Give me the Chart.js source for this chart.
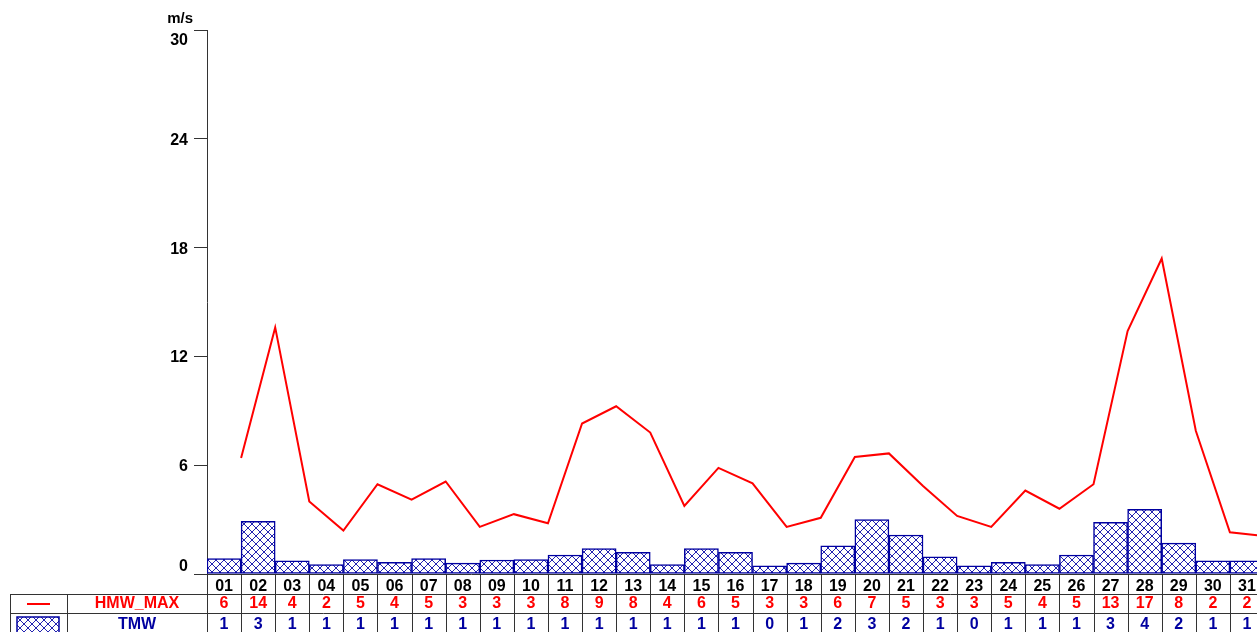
<!DOCTYPE html>
<html lang="en">
<head>
<meta charset="UTF-8">
<title>HMW_MAX / TMW</title>
<style>
html, body { margin: 0; padding: 0; overflow: hidden; background: #fff; }
#box { width: 1264px; height: 632px; }
</style>
</head>
<body>
<div id="box"><canvas id="windChart"></canvas></div>
<script src="https://cdn.jsdelivr.net/npm/chart.js"></script>
<script>
const days = ['01','02','03','04','05','06','07','08','09','10','11','12','13','14','15','16',
              '17','18','19','20','21','22','23','24','25','26','27','28','29','30','31'];
const hmwMax = [6.4, 13.6, 4.0, 2.4, 4.95, 4.1, 5.1, 2.6, 3.3, 2.8, 8.3, 9.25, 7.8, 3.75, 5.85, 5.0,
                2.6, 3.1, 6.45, 6.65, 4.85, 3.2, 2.6, 4.6, 3.6, 4.95, 13.4, 17.4, 7.9, 2.3, 2.1];
const tmw = [0.85, 2.9, 0.73, 0.52, 0.79, 0.64, 0.85, 0.6, 0.77, 0.8, 1.05, 1.4, 1.2, 0.52, 1.4, 1.2,
             0.45, 0.6, 1.55, 3.0, 2.15, 0.95, 0.45, 0.65, 0.52, 1.05, 2.85, 3.57, 1.7, 0.72, 0.72];
const yTicks = [0, 6, 12, 18, 24, 30];
const unitLabel = 'm/s';
const rowNames = ['HMW_MAX', 'TMW'];

const RED = '#ff0000';
const BLUE = '#0000a0';
const FAMILY = '"Liberation Sans", Arial, sans-serif';
const FONT = 'bold 16px ' + FAMILY;
const LINE_COL = '#333';

const ctx = document.getElementById('windChart');

// cross hatch fill for the bars
function makeHatch() {
    const c = document.createElement('canvas');
    c.width = 8; c.height = 8;
    const g = c.getContext('2d');
    g.fillStyle = '#fff';
    g.fillRect(0, 0, 8, 8);
    g.strokeStyle = '#2222b0';
    g.lineWidth = 1;
    g.beginPath();
    g.moveTo(0, 0); g.lineTo(8, 8);
    g.moveTo(8, 0); g.lineTo(0, 8);
    g.stroke();
    return ctx.getContext('2d').createPattern(c, 'repeat');
}
const hatch = makeHatch();

function seg(c, x1, y1, x2, y2) {
    c.beginPath();
    c.moveTo(x1, y1);
    c.lineTo(x2, y2);
    c.stroke();
}

const tablePlugin = {
    id: 'table',
    afterDraw(chart) {
        const c = chart.ctx;
        const area = chart.chartArea;
        const x = chart.scales.x;
        const y = chart.scales.y;
        const w = x.width / days.length;
        const r1 = area.bottom + 20;
        const r2 = r1 + 19;
        const r3 = r2 + 24;

        c.save();
        c.strokeStyle = LINE_COL;
        c.lineWidth = 1;
        seg(c, 10, r1 + 0.5, x.right, r1 + 0.5);
        seg(c, 10, r2 + 0.5, x.right, r2 + 0.5);
        for (let i = 0; i <= days.length; i++) {
            const px = Math.round(x.left + i * w) + 0.5;
            seg(c, px, area.bottom + 1, px, r3);
        }
        seg(c, 10.5, r1, 10.5, r3);
        seg(c, 67.5, r1, 67.5, r3);

        // legend symbols
        c.strokeStyle = RED;
        c.lineWidth = 2;
        seg(c, 27, r1 + 10, 50, r1 + 10);
        c.fillStyle = hatch;
        c.fillRect(17, r2 + 4, 42, 16);
        c.strokeStyle = BLUE;
        c.lineWidth = 1.5;
        c.strokeRect(17, r2 + 4, 42, 16);

        c.font = FONT;
        c.textAlign = 'center';
        c.textBaseline = 'middle';
        c.fillStyle = RED;
        c.fillText(rowNames[0], 137, r1 + 10);
        c.fillStyle = BLUE;
        c.fillText(rowNames[1], 137, r2 + 12);
        days.forEach((d, i) => {
            const cx = x.getPixelForValue(i);
            c.fillStyle = RED;
            c.fillText(String(Math.round(hmwMax[i])), cx, r1 + 10);
            c.fillStyle = BLUE;
            c.fillText(String(Math.round(tmw[i])), cx, r2 + 12);
        });

        // y labels, kept inside the axis range
        c.fillStyle = '#000';
        c.textAlign = 'right';
        yTicks.forEach(v => {
            let py = y.getPixelForValue(v);
            py = Math.min(Math.max(py, area.top + 9), area.bottom - 9);
            c.fillText(String(v), 188, py + 1.5);
        });
        c.font = 'bold 15px ' + FAMILY;
        c.fillText(unitLabel, 193, 19);
        c.restore();
    }
};

new Chart(ctx, {
    type: 'bar',
    data: {
        labels: days,
        datasets: [
            {
                type: 'line',
                label: rowNames[0],
                data: hmwMax.map((v, i) => ({ x: i + 1, y: v })),
                xAxisID: 'xl',
                borderColor: RED,
                borderWidth: 2,
                pointRadius: 0,
                tension: 0,
                order: 1
            },
            {
                type: 'bar',
                label: rowNames[1],
                data: tmw,
                xAxisID: 'x',
                grouped: false,
                backgroundColor: hatch,
                borderColor: BLUE,
                borderWidth: 1.5,
                borderSkipped: false,
                barPercentage: 1,
                categoryPercentage: 1,
                order: 2
            }
        ]
    },
    options: {
        responsive: true,
        maintainAspectRatio: false,
        animation: false,
        layout: { padding: { top: 30, left: 0, right: 0, bottom: 0 } },
        plugins: { legend: { display: false }, tooltip: { enabled: false } },
        scales: {
            x: {
                type: 'category',
                offset: true,
                grid: { display: false, drawTicks: false },
                border: { display: true, color: LINE_COL },
                ticks: {
                    color: '#000',
                    font: { family: FAMILY, size: 16, weight: 'bold' },
                    padding: 3,
                    autoSkip: false,
                    maxRotation: 0
                },
                afterFit(s) { s.height = 58; }
            },
            xl: { type: 'linear', min: 0, max: 31, offset: false, display: false },
            y: {
                min: 0,
                max: 30,
                ticks: { stepSize: 6, display: false },
                grid: { drawOnChartArea: false, tickLength: 13, color: LINE_COL },
                border: { color: LINE_COL },
                afterFit(s) { s.width = 207; }
            }
        }
    },
    plugins: [tablePlugin]
});
</script>
</body>
</html>
